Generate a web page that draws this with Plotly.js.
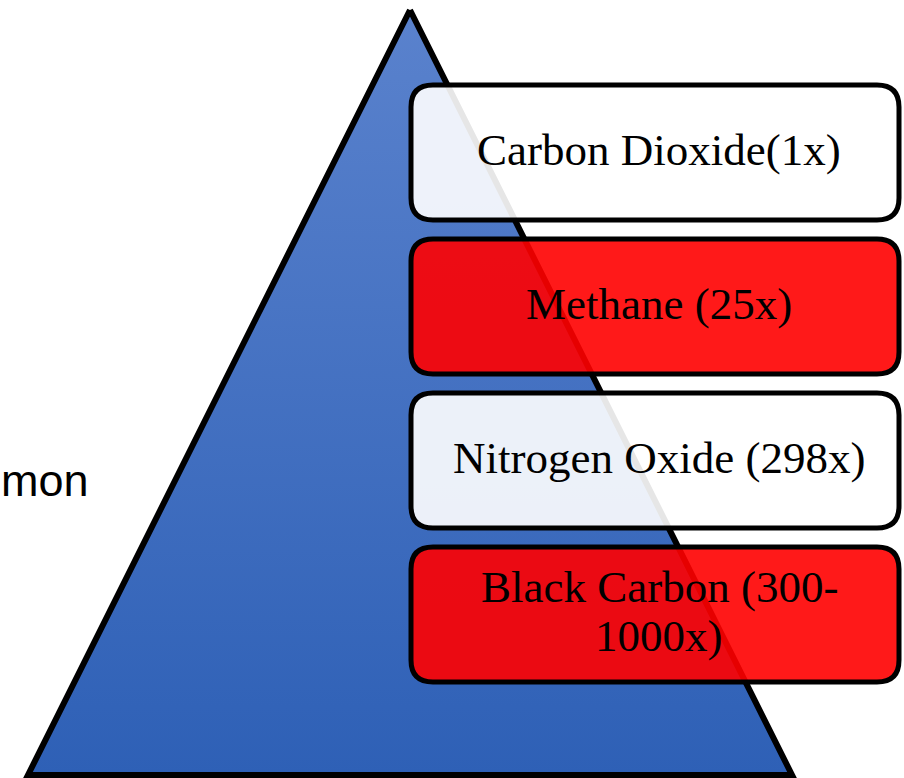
<!DOCTYPE html>
<html>
<head>
<meta charset="utf-8">
<script src="https://cdn.plot.ly/plotly-3.0.1.min.js"></script>
<style>html,body{margin:0;padding:0;background:#fff;}#chart{width:904px;height:778px;}</style>
</head>
<body>
<div id="chart"></div>
<script>
// ---- data ----
var gases = ["Carbon Dioxide", "Methane ", "Nitrogen Oxide ", "Black Carbon "];
var potency = ["1x", "25x", "298x", "300-1000x"];
var labels = ["Carbon Dioxide(1x)", "Methane (25x)", "Nitrogen Oxide (298x)", "Black Carbon (300-<br>1000x)"];
var boxColors = ["rgba(255,255,255,0.9)", "rgba(255,0,0,0.9)", "rgba(255,255,255,0.9)", "rgba(255,0,0,0.9)"];
var sideText = "mon";

// ---- geometry ----
var W = 904, H = 778;
var apex = [410, 10], baseL = [28, 775], baseR = [792, 775];
var boxX0 = 411, boxX1 = 899, boxTop0 = 85, boxPitch = 154, boxH = 135, rad = 22;

function roundRect(x0, y0, x1, y1, r) {
  return 'M' + (x0 + r) + ',' + y0 + ' L' + (x1 - r) + ',' + y0 +
    ' Q' + x1 + ',' + y0 + ' ' + x1 + ',' + (y0 + r) +
    ' L' + x1 + ',' + (y1 - r) +
    ' Q' + x1 + ',' + y1 + ' ' + (x1 - r) + ',' + y1 +
    ' L' + (x0 + r) + ',' + y1 +
    ' Q' + x0 + ',' + y1 + ' ' + x0 + ',' + (y1 - r) +
    ' L' + x0 + ',' + (y0 + r) +
    ' Q' + x0 + ',' + y0 + ' ' + (x0 + r) + ',' + y0 + ' Z';
}

var tri = {
  type: 'scatter', mode: 'lines',
  x: [apex[0], baseR[0], baseL[0], apex[0]],
  y: [apex[1], baseR[1], baseL[1], apex[1]],
  fill: 'toself',
  fillgradient: {type: 'vertical', colorscale: [[0, '#5a82cd'], [1, '#2e60b6']], start: apex[1], stop: baseL[1]},
  line: {color: '#000', width: 6},
  hoverinfo: 'skip', showlegend: false
};

var shapes = [], annotations = [];
labels.forEach(function (lab, i) {
  var y0 = boxTop0 + i * boxPitch, y1 = y0 + boxH;
  shapes.push({
    type: 'path', xref: 'x', yref: 'y', layer: 'above',
    path: roundRect(boxX0, y0, boxX1, y1, rad),
    fillcolor: boxColors[i],
    line: {color: '#000', width: 5}
  });
  var lines = lab.split('<br>');
  var lh = 49;
  var cy = (y0 + y1) / 2 - 3;
  lines.forEach(function (t, k) {
    annotations.push({
      x: 659, y: cy + (k - (lines.length - 1) / 2) * lh,
      xref: 'x', yref: 'y', text: t, showarrow: false,
      xanchor: 'center', yanchor: 'middle',
      font: {family: 'Liberation Serif, Times New Roman, serif', size: 45, color: '#000'}
    });
  });
});
annotations.push({
  x: 0, y: 480, xref: 'x', yref: 'y', text: sideText, showarrow: false,
  xanchor: 'left', yanchor: 'middle', borderpad: 0,
  font: {family: 'Liberation Sans, Arial, sans-serif', size: 45, color: '#000'}
});

var layout = {
  width: W, height: H,
  margin: {l: 0, r: 0, t: 0, b: 0},
  paper_bgcolor: '#fff', plot_bgcolor: '#fff',
  xaxis: {range: [0, W], visible: false, fixedrange: true},
  yaxis: {range: [H, 0], visible: false, fixedrange: true},
  shapes: shapes, annotations: annotations, showlegend: false
};
Plotly.newPlot('chart', [tri], layout, {displayModeBar: false, staticPlot: true});
</script>
</body>
</html>
